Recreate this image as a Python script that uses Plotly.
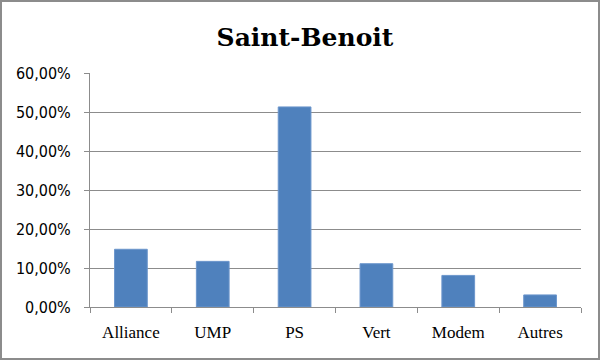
import plotly.graph_objects as go

categories = ["Alliance", "UMP", "PS", "Vert", "Modem", "Autres"]
values = [0.148, 0.117, 0.513, 0.111, 0.081, 0.031]
y_ticks = [0, 0.1, 0.2, 0.3, 0.4, 0.5, 0.6]

W, H = 600, 360
ml, mr, mt, mb = 90, 19, 73, 53
pw, ph = W - ml - mr, H - mt - mb

fig = go.Figure(go.Bar(
    x=categories, y=values,
    marker=dict(color="#4F81BD", line=dict(color="#6C96CC", width=1)),
    width=0.4,
))

fig.update_layout(
    width=W, height=H,
    margin=dict(l=ml, r=mr, t=mt, b=mb),
    paper_bgcolor="white", plot_bgcolor="white",
    separators=", ",
    showlegend=False,
    title=dict(text="<b>Saint-Benoit</b>", x=305 / W, xanchor="center",
               y=1 - 37 / H, yanchor="middle",
               font=dict(family="DejaVu Serif", size=25, color="black")),
    xaxis=dict(
        showline=True, linecolor="#8c8c8c", linewidth=1,
        ticks="outside", ticklen=5, tickcolor="#8c8c8c",
        tickson="boundaries",
        tickfont=dict(family="Liberation Serif", size=17, color="black"),
        ticklabelstandoff=10,
        showgrid=False,
    ),
    yaxis=dict(
        range=[0, 0.6], tickvals=y_ticks, tickformat=".2%",
        showline=True, linecolor="#8c8c8c", linewidth=1,
        ticks="outside", ticklen=5, tickcolor="#8c8c8c",
        showgrid=True, gridcolor="#8c8c8c", gridwidth=1,
        tickfont=dict(family="DejaVu Sans Condensed", size=16, color="black"),
        ticklabelstandoff=10,
        zeroline=False,
    ),
    shapes=[dict(
        type="rect", xref="paper", yref="paper",
        x0=-(ml - 1) / pw, x1=1 + (mr - 1) / pw,
        y0=-(mb - 1) / ph, y1=1 + (mt - 1) / ph,
        line=dict(color="#8c8c8c", width=2), layer="above",
    )],
)

fig.write_html("out.html")
